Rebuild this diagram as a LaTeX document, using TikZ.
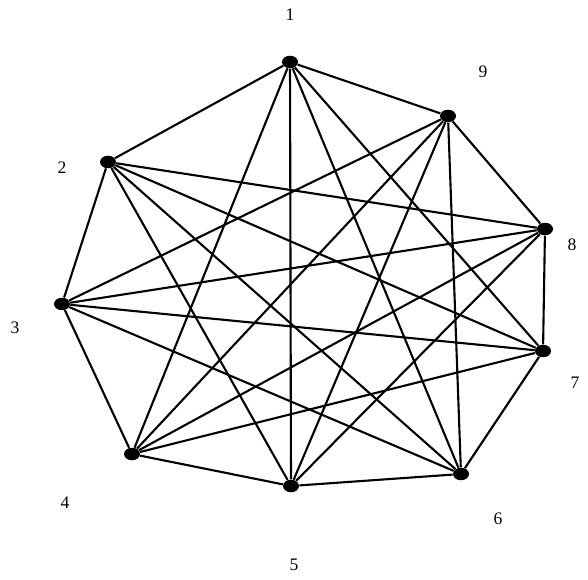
\documentclass[tikz,border=0pt]{standalone}
\usepackage{fontspec}
\setmainfont{Liberation Serif}
\usetikzlibrary{shapes.geometric}

\tikzset{
    vertex/.style={ellipse, fill=black, inner sep=0pt, minimum width=0.32cm, minimum height=0.25cm},
    edge/.style={line width=1.2pt},
    num/.style={font=\normalsize}
}

\begin{document}
\begin{tikzpicture}[scale=1.0]
    \useasboundingbox (0,0) rectangle (11.76,11.58);

    % vertices
    \node[vertex] (v1) at (5.80,10.34) {};
    \node[vertex] (v9) at (8.96,9.26) {};
    \node[vertex] (v2) at (2.16,8.34) {};
    \node[vertex] (v8) at (10.90,7.00) {};
    \node[vertex] (v3) at (1.24,5.50) {};
    \node[vertex] (v7) at (10.86,4.56) {};
    \node[vertex] (v4) at (2.64,2.50) {};
    \node[vertex] (v6) at (9.22,2.10) {};
    \node[vertex] (v5) at (5.82,1.86) {};

    % labels
    \node[num] (l1) at (5.80,11.28) {1};
    \node[num] (l9) at (9.66,10.14) {9};
    \node[num] (l2) at (1.24,8.22) {2};
    \node[num] (l8) at (11.44,6.68) {8};
    \node[num] (l3) at (0.30,5.02) {3};
    \node[num] (l7) at (11.50,3.92) {7};
    \node[num] (l4) at (1.30,1.52) {4};
    \node[num] (l6) at (9.96,1.20) {6};
    \node[num] (l5) at (5.88,0.28) {5};

    % edges
    \foreach \a/\b in {1/9,9/8,8/7,7/6,6/5,5/4,4/3,3/2,2/1,
                       1/7,9/6,8/5,7/4,6/3,5/2,4/1,3/9,2/8,
                       1/6,9/5,8/4,7/3,6/2,5/1,4/9,3/8,2/7}
        \draw[edge] (v\a) -- (v\b);
\end{tikzpicture}
\end{document}
